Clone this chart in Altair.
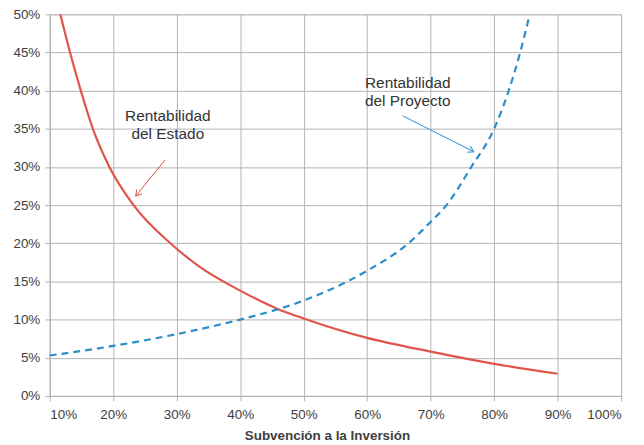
import altair as alt
import pandas as pd
import math

# Rentabilidad del Estado (red, solid)
estado_x = [11.67, 13.2, 14.9, 16.8, 19.4, 23.2, 29.0, 33.4, 40, 45.9, 50, 60, 70, 80, 90]
estado_y = [50, 45, 40, 35, 30, 25, 20, 17.05, 13.8, 11.4, 10.15, 7.6, 5.8, 4.2, 2.9]

# Rentabilidad del Proyecto (blue, dashed)
proyecto_x = [10, 20, 30, 33.4, 40, 50, 60, 66.5, 70, 72.5, 76.4, 80, 82.3, 84.1, 85.6]
proyecto_y = [5.3, 6.55, 8.1, 8.7, 10.0, 12.5, 16.4, 20, 22.8, 25, 30, 35, 40, 45, 50]

x_ticks = [10, 20, 30, 40, 50, 60, 70, 80, 90, 100]
y_ticks = [0, 5, 10, 15, 20, 25, 30, 35, 40, 45, 50]

# Annotations
label_text = ["Rentabilidad", "del Estado", "Rentabilidad", "del Proyecto"]
label_x = [28.6, 28.6, 66.4, 66.4]
label_y = [36.7, 34.3, 41.0, 38.6]

arrow_series = ["Estado", "Proyecto"]
arrow_x1 = [28.2, 65.6]
arrow_y1 = [30.95, 36.7]
arrow_x2 = [23.55, 76.8]
arrow_y2 = [26.2, 32.0]

RED = "#E0544C"
BLUE = "#2A8FC8"
GRID = "#B3B3B3"
TEXT = "#404040"

W, H = 575, 384
XMIN, XMAX, YMIN, YMAX = 10, 100, 0, 50

df_e = pd.DataFrame({"x": estado_x, "y": estado_y})
df_p = pd.DataFrame({"x": proyecto_x, "y": proyecto_y})
df_lab = pd.DataFrame({"x": label_x, "y": label_y, "t": label_text})

angles = []
for x1, y1, x2, y2 in zip(arrow_x1, arrow_y1, arrow_x2, arrow_y2):
    dx = (x2 - x1) * W / (XMAX - XMIN)
    dy = -(y2 - y1) * H / (YMAX - YMIN)
    angles.append(math.degrees(math.atan2(dy, dx)) % 360)
df_arr = pd.DataFrame({"x": arrow_x1, "y": arrow_y1, "x2": arrow_x2, "y2": arrow_y2,
                       "s": arrow_series, "angle": angles})

xs = alt.Scale(domain=[XMIN, XMAX], nice=False, zero=False)
ys = alt.Scale(domain=[YMIN, YMAX], nice=False, zero=False)
color_scale = alt.Scale(domain=["Estado", "Proyecto"], range=[RED, BLUE])

xaxis = alt.Axis(values=x_ticks, labelExpr="datum.value + '%'", title="Subvención a la Inversión",
                 titleFontWeight="bold", titleFontSize=13.5, titleColor=TEXT, titleFont="Liberation Sans",
                 titleX=279, titleY=44, titleBaseline="alphabetic",
                 labelFont="Liberation Sans", labelFontSize=13.5, labelColor=TEXT, labelPadding=7,
                 labelOverlap=False,
                 gridColor=GRID, domainColor=GRID, tickColor=GRID, tickSize=5, grid=True)
yaxis = alt.Axis(values=y_ticks, labelExpr="datum.value + '%'", title=None,
                 labelFont="Liberation Sans", labelFontSize=13.5, labelColor=TEXT, labelPadding=5,
                 labelOverlap=False,
                 gridColor=GRID, domainColor=GRID, tickColor=GRID, tickSize=5, grid=True)

X = alt.X("x:Q", scale=xs, axis=xaxis)
Y = alt.Y("y:Q", scale=ys, axis=yaxis)

line_e = alt.Chart(df_e).mark_line(color=RED, strokeWidth=2.2, interpolate="monotone").encode(x=X, y=Y)
line_p = alt.Chart(df_p).mark_line(color=BLUE, strokeWidth=2.2, strokeDash=[7, 5],
                                   interpolate="monotone").encode(x=X, y=Y)

labels = alt.Chart(df_lab).mark_text(font="Liberation Sans", fontSize=15.5, color="#333333",
                                     align="center", baseline="middle").encode(x=X, y=Y, text="t:N")

shafts = alt.Chart(df_arr).mark_rule(strokeWidth=1).encode(
    x=X, y=Y, x2="x2:Q", y2="y2:Q",
    color=alt.Color("s:N", scale=color_scale, legend=None))
heads = alt.Chart(df_arr).mark_point(shape="M-1,-0.6L0,0L-1,0.6", filled=False, size=130,
                                     strokeWidth=1, opacity=1).encode(
    x=alt.X("x2:Q", scale=xs, axis=xaxis), y=alt.Y("y2:Q", scale=ys, axis=yaxis),
    angle=alt.Angle("angle:Q", scale=None),
    color=alt.Color("s:N", scale=color_scale, legend=None))

chart = alt.layer(line_e, line_p, shafts, heads, labels).properties(
    width=W, height=H,
    padding={"left": 42, "top": 5, "right": 15, "bottom": 46},
    autosize=alt.AutoSizeParams(type="none"),
).configure_view(stroke=None).configure(background="white")

chart.save("out.html", embed_options={"renderer": "svg", "actions": False})
